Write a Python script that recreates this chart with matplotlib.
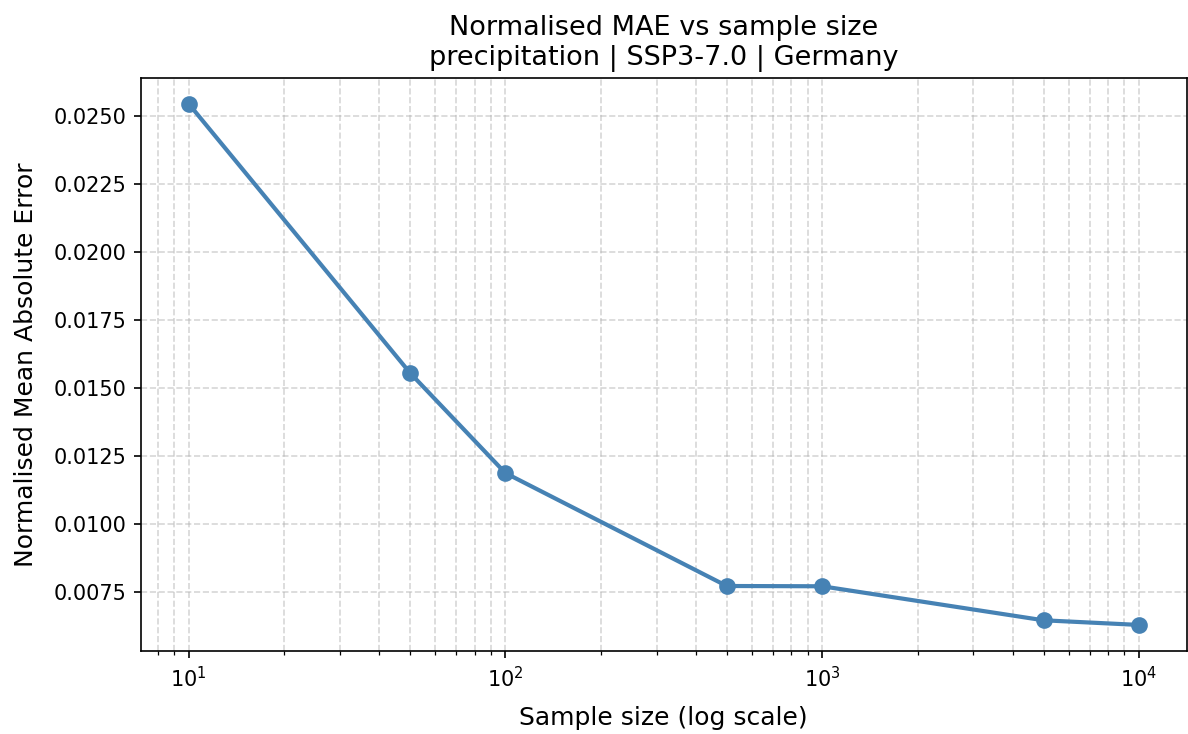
import matplotlib
matplotlib.use("Agg")
import matplotlib.pyplot as plt

# Sample sizes and normalised MAE
sample_sizes = [10, 50, 100, 500, 1000, 5000, 10000]
norm_mae = [0.02544, 0.01555, 0.01187, 0.00772, 0.00771, 0.00646, 0.00629]

variable = "precipitation"
scenario = "SSP3-7.0"
region = "Germany"

W, H, DPI = 1188, 734, 150
fig, ax = plt.subplots(figsize=(W / DPI, H / DPI))
# axes box placed to match the reference (right spine sits at the image edge)
fig.subplots_adjust(left=141 / W, right=1186.5 / W, top=1 - 77.5 / H, bottom=1 - 651 / H)

ax.plot(sample_sizes, norm_mae, marker="o", color="steelblue", linewidth=2, markersize=7)
ax.set_xscale("log")
ax.set_xlabel("Sample size (log scale)", fontsize=12, labelpad=7.5)
ax.set_ylabel("Normalised Mean Absolute Error", fontsize=12, labelpad=7.5)
ax.set_title(f"Normalised MAE vs sample size\n{variable} | {scenario} | {region}", fontsize=13)
ax.grid(True, which="both", linestyle="--", alpha=0.5)

fig.savefig("out.png", dpi=DPI)
